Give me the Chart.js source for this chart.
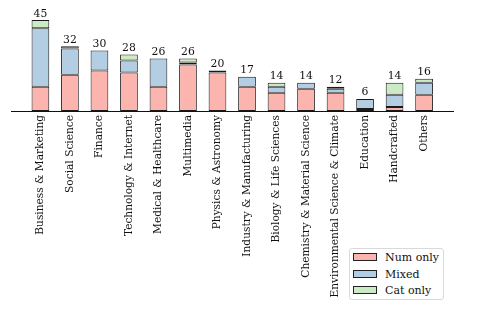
<!DOCTYPE html>
<html>
<head>
<meta charset="utf-8">
<script src="https://cdn.jsdelivr.net/npm/chart.js@4/dist/chart.umd.min.js"></script>
<style>
  html, body { margin: 0; padding: 0; background: #fff; }
  #wrap { position: relative; width: 478px; height: 319px; }
  #legend {
    position: absolute; left: 349px; top: 248px; width: 95px; height: 52px;
    border: 1px solid #d9d9d9; border-radius: 3px; background: #fff;
    font-family: 'DejaVu Serif', serif; font-size: 11px; color: #111;
    box-sizing: border-box;
  }
  #legend .row { position: absolute; left: 3px; height: 14px; line-height: 14px; white-space: nowrap; }
  #legend .sw { display: inline-block; width: 24px; height: 8px; border: 1px solid #222; box-sizing: border-box; vertical-align: middle; margin-right: 8px; position: relative; top: -1px; }
</style>
</head>
<body>
<div id="wrap">
  <canvas id="c" width="478" height="319"></canvas>
  <div id="legend"></div>
</div>
<script>
// categories and stacked counts
const categories = [
  'Business & Marketing', 'Social Science', 'Finance', 'Technology & Internet',
  'Medical & Healthcare', 'Multimedia', 'Physics & Astronomy', 'Industry & Manufacturing',
  'Biology & Life Sciences', 'Chemistry & Material Science', 'Environmental Science & Climate',
  'Education', 'Handcrafted', 'Others'
];
const numOnly = [12, 18, 20, 19, 12, 23, 19, 12, 9, 11, 9, 1, 2, 8];
const mixed   = [29, 13, 10, 6, 14, 1, 1, 5, 3, 3, 2, 5, 6, 6];
const catOnly = [4, 1, 0, 3, 0, 2, 0, 0, 2, 0, 1, 0, 6, 2];

const seriesNames = ['Num only', 'Mixed', 'Cat only'];
const seriesColors = ['#fbb4ae', '#b3cde3', '#ccebc5'];

const totals = categories.map((_, i) => numOnly[i] + mixed[i] + catOnly[i]);

const toPoints = arr => arr.map((v, i) => ({ x: i, y: v }));

// totals written above each stack
const totalLabels = {
  id: 'totalLabels',
  afterDatasetsDraw(chart) {
    const { ctx, scales: { x, y } } = chart;
    ctx.save();
    ctx.font = '10.8px "DejaVu Serif", serif';
    ctx.fillStyle = '#111';
    ctx.textAlign = 'center';
    ctx.textBaseline = 'bottom';
    totals.forEach((t, i) => {
      ctx.fillText(String(t), x.getPixelForValue(i), y.getPixelForValue(t) - 1);
    });
    ctx.restore();
  }
};

new Chart(document.getElementById('c'), {
  type: 'bar',
  data: {
    datasets: [numOnly, mixed, catOnly].map((arr, k) => ({
      label: seriesNames[k],
      data: toPoints(arr),
      backgroundColor: seriesColors[k],
      borderColor: '#1a1a1a',
      borderWidth: 1,
      borderSkipped: false,
      barPercentage: 0.6,
      categoryPercentage: 1
    }))
  },
  options: {
    responsive: false,
    animation: false,
    layout: { padding: { left: 11.5, right: 25, top: 10, bottom: 0 } },
    plugins: { legend: { display: false }, tooltip: { enabled: false } },
    scales: {
      x: {
        type: 'linear',
        stacked: true,
        offset: false,
        min: -0.98,
        max: 13.98,
        grid: { display: false, drawTicks: false },
        border: { display: true, color: '#111', width: 1 },
        ticks: {
          stepSize: 1,
          autoSkip: false,
          includeBounds: false,
          minRotation: 90,
          maxRotation: 90,
          padding: 4,
          color: '#111',
          font: { family: '"DejaVu Serif", serif', size: 10.6 },
          callback: v => (Number.isInteger(v) && categories[v]) ? categories[v] : ''
        },
        afterFit(scale) { scale.height = 208; }
      },
      y: {
        display: false,
        stacked: true,
        min: 0,
        max: 50
      }
    }
  },
  plugins: [totalLabels]
});

// legend box in the lower right
const legend = document.getElementById('legend');
seriesNames.forEach((name, k) => {
  const row = document.createElement('div');
  row.className = 'row';
  row.style.top = (2 + k * 16.5) + 'px';
  row.innerHTML = '<span class="sw" style="background:' + seriesColors[k] + '"></span>' + name;
  legend.appendChild(row);
});
</script>
</body>
</html>
